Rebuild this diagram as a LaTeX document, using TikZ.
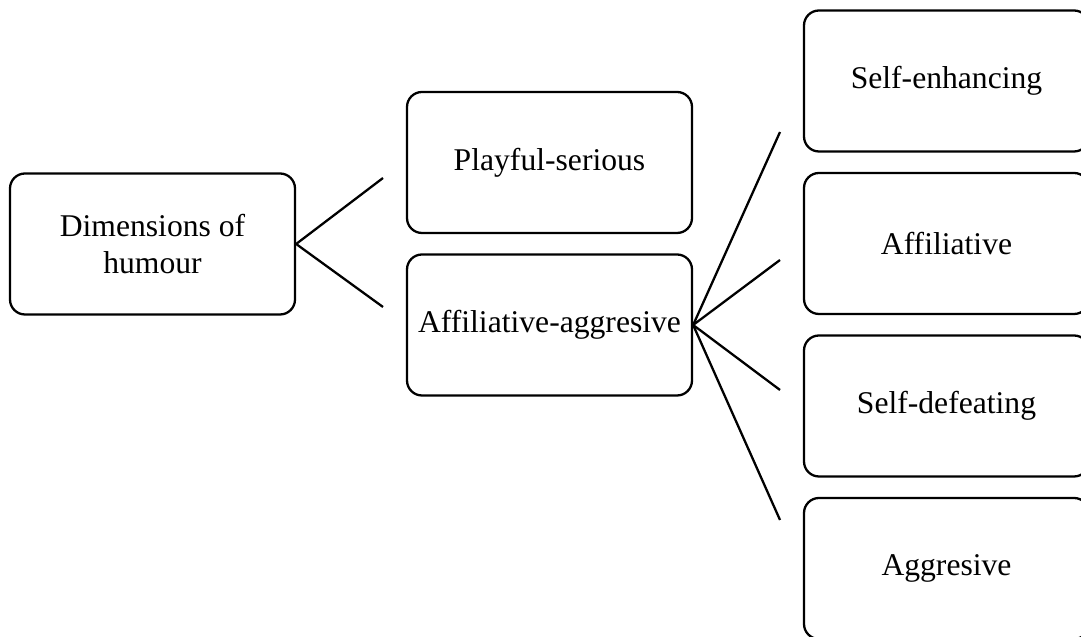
\documentclass[tikz,border=0pt]{standalone}
\usepackage{fontspec}
\setmainfont{Liberation Serif}

\begin{document}
\begin{tikzpicture}[
    box/.style={draw, line width=1.3pt, rounded corners=0.3cm,
        minimum width=5.7cm, minimum height=2.82cm, align=center,
        font=\fontsize{18}{21}\selectfont},
    link/.style={line width=1.3pt}]

\useasboundingbox (0,0) rectangle (21.62,12.74);
\clip (0,0) rectangle (21.62,12.74);

% root
\node[box] (dim) at (3.05,7.86) {Dimensions of\\humour};

% second level
\node[box] (play) at (10.99,9.49) {Playful-serious};
\node[box] (affagg) at (10.99,6.24) {Affiliative-aggresive};

% styles (right column, cut by the page edge)
\foreach \name/\y/\text in {
    selfenh/11.12/{Self-enhancing},
    affil/7.87/{Affiliative},
    selfdef/4.62/{Self-defeating},
    aggr/1.37/{Aggresive}} {
    \node[box] (\name) at (18.93,\y) {\text};
}

% lines from the root
\coordinate (dimup) at (7.66,9.18);
\coordinate (dimdown) at (7.66,6.60);
\draw[link] (dim.east) -- (dimup);
\draw[link] (dim.east) -- (dimdown);

% lines from affiliative-aggresive
\foreach \n/\y in {a1/10.10, a2/7.54, a3/4.94, a4/2.34} {
    \coordinate (\n) at (15.6,\y);
    \draw[link] (affagg.east) -- (\n);
}
\end{tikzpicture}
\end{document}
